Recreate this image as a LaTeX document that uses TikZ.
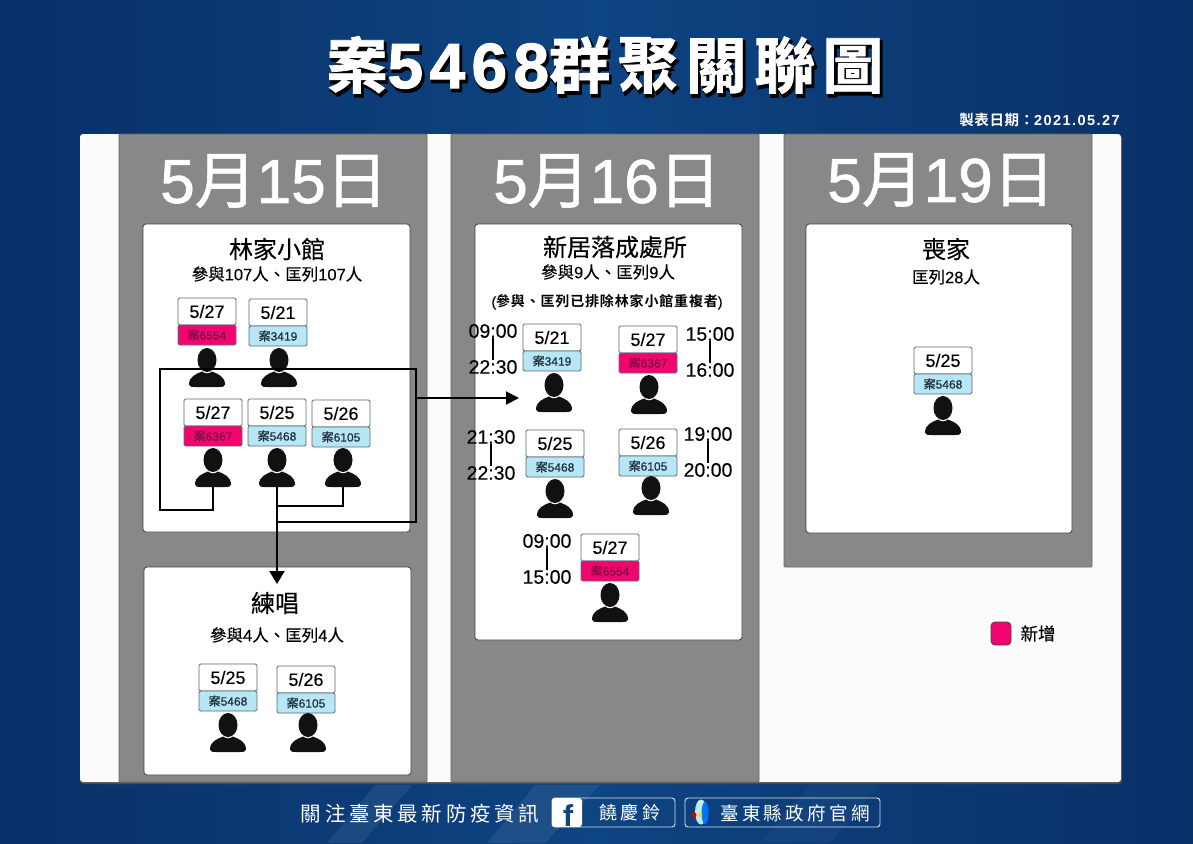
\documentclass[tikz,border=0pt]{standalone}
\usepackage{fontspec}
\setmainfont[FakeBold=0.2]{Liberation Sans}
\newfontfamily\cjk[FakeBold=0.3]{Noto Sans CJK TC}
\newfontfamily\daylat[FakeBold=1.2]{Liberation Sans}
\newfontfamily\daycjk[FakeBold=1]{Noto Sans CJK TC}
\newfontfamily\titlecjk[LetterSpace=12,FakeBold=1.2]{Noto Sans CJK TC Bold}
\newfontfamily\titlelat[LetterSpace=10,FakeBold=1.5]{Liberation Sans Bold}
\newfontfamily\shadowcjk[LetterSpace=12,FakeBold=4]{Noto Sans CJK TC Bold}
\newfontfamily\shadowlat[LetterSpace=10,FakeBold=4]{Liberation Sans Bold}
\newfontfamily\footcjk[LetterSpace=18]{Noto Sans CJK TC}
\newfontfamily\notecjk[LetterSpace=6]{Noto Sans CJK TC Bold}
\newfontfamily\headcjk[LetterSpace=4]{Noto Sans CJK TC Bold}
\newfontfamily\notelat[LetterSpace=10]{Liberation Sans Bold}
\usepackage{tikz}
\usetikzlibrary{arrows.meta,positioning}
\definecolor{navy}{HTML}{0D4482}
\definecolor{navydark}{HTML}{0A3068}
\definecolor{paper}{HTML}{FBFBFB}
\definecolor{column}{HTML}{888888}
\definecolor{newcase}{HTML}{F2056F}
\definecolor{newtext}{HTML}{7A0F45}
\definecolor{oldcase}{HTML}{B7E6F6}
\definecolor{oldtext}{HTML}{1B2A33}
\definecolor{edge}{HTML}{5D6B70}
\definecolor{icon}{HTML}{111111}
\tikzstyle{column} = [rectangle, draw=black!60, fill=column, rounded corners=1pt, line width=0.8pt]
\tikzstyle{venue} = [rectangle, draw=black!75, fill=white, rounded corners=3pt, line width=0.8pt]
\tikzstyle{daytitle} = [text=white, font=\fontsize{62}{62}\selectfont]
\tikzstyle{datebox} = [rectangle, draw=edge, fill=white, rounded corners=1.5pt, line width=0.8pt,
    minimum width=58pt, minimum height=27pt, inner sep=0pt,
    font=\fontsize{18}{18}\selectfont]
\tikzstyle{newbox} = [rectangle, draw=edge, fill=newcase, text=newtext, rounded corners=1.5pt, line width=0.8pt,
    minimum width=58pt, minimum height=20pt, inner sep=0pt, node distance=23.5pt,
    font=\fontsize{12}{12}\selectfont]
\tikzstyle{oldbox} = [rectangle, draw=edge, fill=oldcase, text=oldtext, rounded corners=1.5pt, line width=0.8pt,
    minimum width=58pt, minimum height=20pt, inner sep=0pt, node distance=23.5pt,
    font=\fontsize{12}{12}\selectfont]
\tikzstyle{personbox} = [rectangle, minimum width=36pt, minimum height=39pt, inner sep=0pt]
\tikzstyle{wire} = [black, line width=2pt]
\tikzstyle{timelabel} = [inner sep=0pt, font=\fontsize{19.5}{20}\selectfont]
\tikzstyle{timebar} = [black, line width=1.3pt]
\newcommand{\casecard}[6]{%
  \node [datebox] (#1) at (#2,#3+13.5) {#4};
  \node [#6, below of=#1] (#1tag) {{\cjk 案}#5};}
\newcommand{\person}[3]{%
  \node [personbox] (#1) at (#2,#3+19.5) {};
  \fill [icon, shift={(#1.center)}] (-18,17) .. controls (-18,9) and (-11,6.5) .. (-5,4)
    .. controls (-2,6.5) and (2,6.5) .. (5,4) .. controls (11,6.5) and (18,9) .. (18,17)
    .. controls (18,19.5) and (15,19.5) .. (12,19.5) -- (-12,19.5)
    .. controls (-15,19.5) and (-18,19.5) .. (-18,17) -- cycle;
  \fill [icon, shift={(#1.center)}] (0,-7.5) ellipse [x radius=9.5, y radius=12];}
\newcommand{\timespan}[5]{%
  \node [timelabel] (#1from) at (#2,#3) {#4};
  \node [timelabel] (#1to) at (#2,#3+36) {#5};
  \draw [timebar] (#1from) -- (#1to);}
\begin{document}
\begin{tikzpicture}[x=1pt,y=-1pt]
  \useasboundingbox (0,0) rectangle (1193,843);
  % Place background
  \fill [left color=navydark, right color=navydark, middle color=navy] (0,0) rectangle (1193,843);
  \fill [white, opacity=0.07] (327,843) -- (375,785) -- (412,785) -- (362,843) -- cycle;
  \fill [white, opacity=0.07] (487,843) -- (535,785) -- (600,785) -- (545,843) -- cycle;
  \fill [white, opacity=0.03] (760,843) -- (810,785) -- (880,785) -- (830,843) -- cycle;
  \fill [black!70, rounded corners=3pt] (80,136) rectangle (1122,784);
  \fill [paper, rounded corners=3pt] (80,134) rectangle (1121,782);
  % Place title
  \node [text=black, inner sep=0pt] (titleshadow) at (607,68)
    {\fontsize{61}{61}\selectfont{\shadowcjk 案}{\shadowlat\fontsize{64}{64}\selectfont 5468}{\shadowcjk 群聚關聯圖}};
  \node [text=white, inner sep=0pt] (title) at (605,65)
    {\fontsize{61}{61}\selectfont{\titlecjk 案}{\titlelat\fontsize{64}{64}\selectfont 5468}{\titlecjk 群聚關聯圖}};
  \node [text=white, anchor=east, inner sep=0pt, font=\fontsize{14.5}{15}\selectfont] (madedate) at (1120,120)
    {{\headcjk 製表日期：}{\notelat 2021.05.27}};
  % Place columns
  \draw [column] (119,134) rectangle (427,782);
  \draw [column] (451,134) rectangle (759,782);
  \draw [column] (784,134) rectangle (1092,567);
  \node [daytitle] (day15) at (274,181) {{\daylat 5}{\daycjk 月}{\daylat 15}{\daycjk 日}};
  \node [daytitle] (day16) at (607,181) {{\daylat 5}{\daycjk 月}{\daylat 16}{\daycjk 日}};
  \node [daytitle] (day19) at (941,180) {{\daylat 5}{\daycjk 月}{\daylat 19}{\daycjk 日}};
  % Place venues
  \draw [venue] (143,224) rectangle (410,532);
  \draw [venue] (144,567) rectangle (411,775);
  \draw [venue] (475,224) rectangle (742,640);
  \draw [venue] (806,224) rectangle (1072,533);
  \node [font=\fontsize{24}{24}\selectfont] (lin) at (277,249) {\cjk 林家小館};
  \node [font=\fontsize{16.5}{17}\selectfont] (linnote) at (277,274) {{\cjk 參與}107{\cjk 人、匡列}107{\cjk 人}};
  \node [font=\fontsize{24}{24}\selectfont] (choir) at (275,603) {\cjk 練唱};
  \node [font=\fontsize{16.5}{17}\selectfont] (choirnote) at (277,635) {{\cjk 參與}4{\cjk 人、匡列}4{\cjk 人}};
  \node [font=\fontsize{24}{24}\selectfont] (house) at (615,247) {\cjk 新居落成處所};
  \node [font=\fontsize{16.5}{17}\selectfont] (housenote) at (608,272) {{\cjk 參與}9{\cjk 人、匡列}9{\cjk 人}};
  \node [font=\fontsize{14}{14}\selectfont] (houseextra) at (607,302) {({\notecjk 參與、匡列已排除林家小館重複者})};
  \node [font=\fontsize{24}{24}\selectfont] (funeral) at (946,249) {\cjk 喪家};
  \node [font=\fontsize{16.5}{17}\selectfont] (funeralnote) at (946,277) {{\cjk 匡列}28{\cjk 人}};
  % Place cards at the first venue
  \casecard{linA}{207}{298}{5/27}{6554}{newbox}
  \casecard{linB}{278}{299}{5/21}{3419}{oldbox}
  \casecard{linC}{213}{399}{5/27}{6367}{newbox}
  \casecard{linD}{277}{399}{5/25}{5468}{oldbox}
  \casecard{linE}{341}{400}{5/26}{6105}{oldbox}
  \person{linApic}{207}{348}
  \person{linBpic}{279}{348}
  \person{linCpic}{213}{448}
  \person{linDpic}{277}{448}
  \person{linEpic}{343}{448}
  % Place cards at the choir
  \casecard{choirA}{228}{664}{5/25}{5468}{oldbox}
  \casecard{choirB}{306}{666}{5/26}{6105}{oldbox}
  \person{choirApic}{228}{713}
  \person{choirBpic}{308}{713}
  % Place cards at the house
  \casecard{houseA}{552}{324}{5/21}{3419}{oldbox}
  \casecard{houseB}{648}{326}{5/27}{6367}{newbox}
  \casecard{houseC}{555}{430}{5/25}{5468}{oldbox}
  \casecard{houseD}{648}{429}{5/26}{6105}{oldbox}
  \casecard{houseE}{610}{534}{5/27}{6554}{newbox}
  \person{houseApic}{554}{373}
  \person{houseBpic}{649}{375}
  \person{houseCpic}{555}{479}
  \person{houseDpic}{651}{476}
  \person{houseEpic}{610}{583}
  \timespan{timeA}{493}{331}{09:00}{22:30}
  \timespan{timeB}{710}{334}{15:00}{16:00}
  \timespan{timeC}{491}{437}{21:30}{22:30}
  \timespan{timeD}{708}{434}{19:00}{20:00}
  \timespan{timeE}{547}{541}{09:00}{15:00}
  % Place card at the funeral
  \casecard{funeralA}{943}{347}{5/25}{5468}{oldbox}
  \person{funeralApic}{943}{396}
  % Draw edges
  \coordinate (wireSW) at (160,510);
  \coordinate (wireNW) at (160,369);
  \coordinate (wireNE) at (416,369);
  \coordinate (wireSE) at (416,522);
  \coordinate (wireOut) at (416,398);
  \coordinate (wireHouse) at (519,400);
  \coordinate (wireChoir) at (277,584);
  \coordinate (joinE) at (277,506);
  \coordinate (joinSE) at (277,522);
  \draw [wire] (linCpic.south) |- (wireSW) -- (wireNW) -- (wireNE) -- (wireSE) -- (joinSE);
  \draw [wire] (linEpic.south) |- (joinE);
  \draw [wire, -{Triangle[width=15pt,length=13pt]}] (linDpic.south) -- (wireChoir);
  \draw [wire, -{Triangle[width=13pt,length=13pt]}] (wireOut) -- (wireOut -| wireHouse);
  % Place legend
  \node [rectangle, draw=black!75, fill=newcase, rounded corners=4pt, minimum width=20pt,
    minimum height=23pt, inner sep=0pt, line width=0.8pt] (legendbox) at (1001,633.5) {};
  \node [right of=legendbox, node distance=37pt, font=\fontsize{17.5}{18}\selectfont] (legendtext) {\cjk 新增};
  % Place footer
  \node [text=white, font=\fontsize{20.5}{21}\selectfont, inner sep=0pt] (follow) at (420,814) {\footcjk 關注臺東最新防疫資訊};
  \draw [white!85!navy, rounded corners=3pt, line width=0.9pt] (552,798) rectangle (675,827);
  \fill [white, rounded corners=3pt] (552,798) rectangle (582,827);
  \node [text=navy, font=\fontsize{30}{30}\selectfont\bfseries, inner sep=0pt] (fbmark) at (568,815) {f};
  \node [text=white, font=\fontsize{18}{18}\selectfont, inner sep=0pt] (fbname) at (630,813) {\footcjk 饒慶鈴};
  \draw [white!85!navy, rounded corners=3pt, line width=0.9pt] (685,798) rectangle (880,827);
  \fill [cyan!25!white] (701,812) ellipse [x radius=6, y radius=12.5];
  \fill [blue!55!cyan] (705,813) ellipse [x radius=3.5, y radius=11];
  \fill [yellow!80!orange] (700,815) circle (2);
  \fill [red!80!black] (694,815) circle (2.5);
  \node [text=white, font=\fontsize{18.5}{19}\selectfont, inner sep=0pt] (govsite) at (795,813) {\footcjk 臺東縣政府官網};
\end{tikzpicture}
\end{document}
